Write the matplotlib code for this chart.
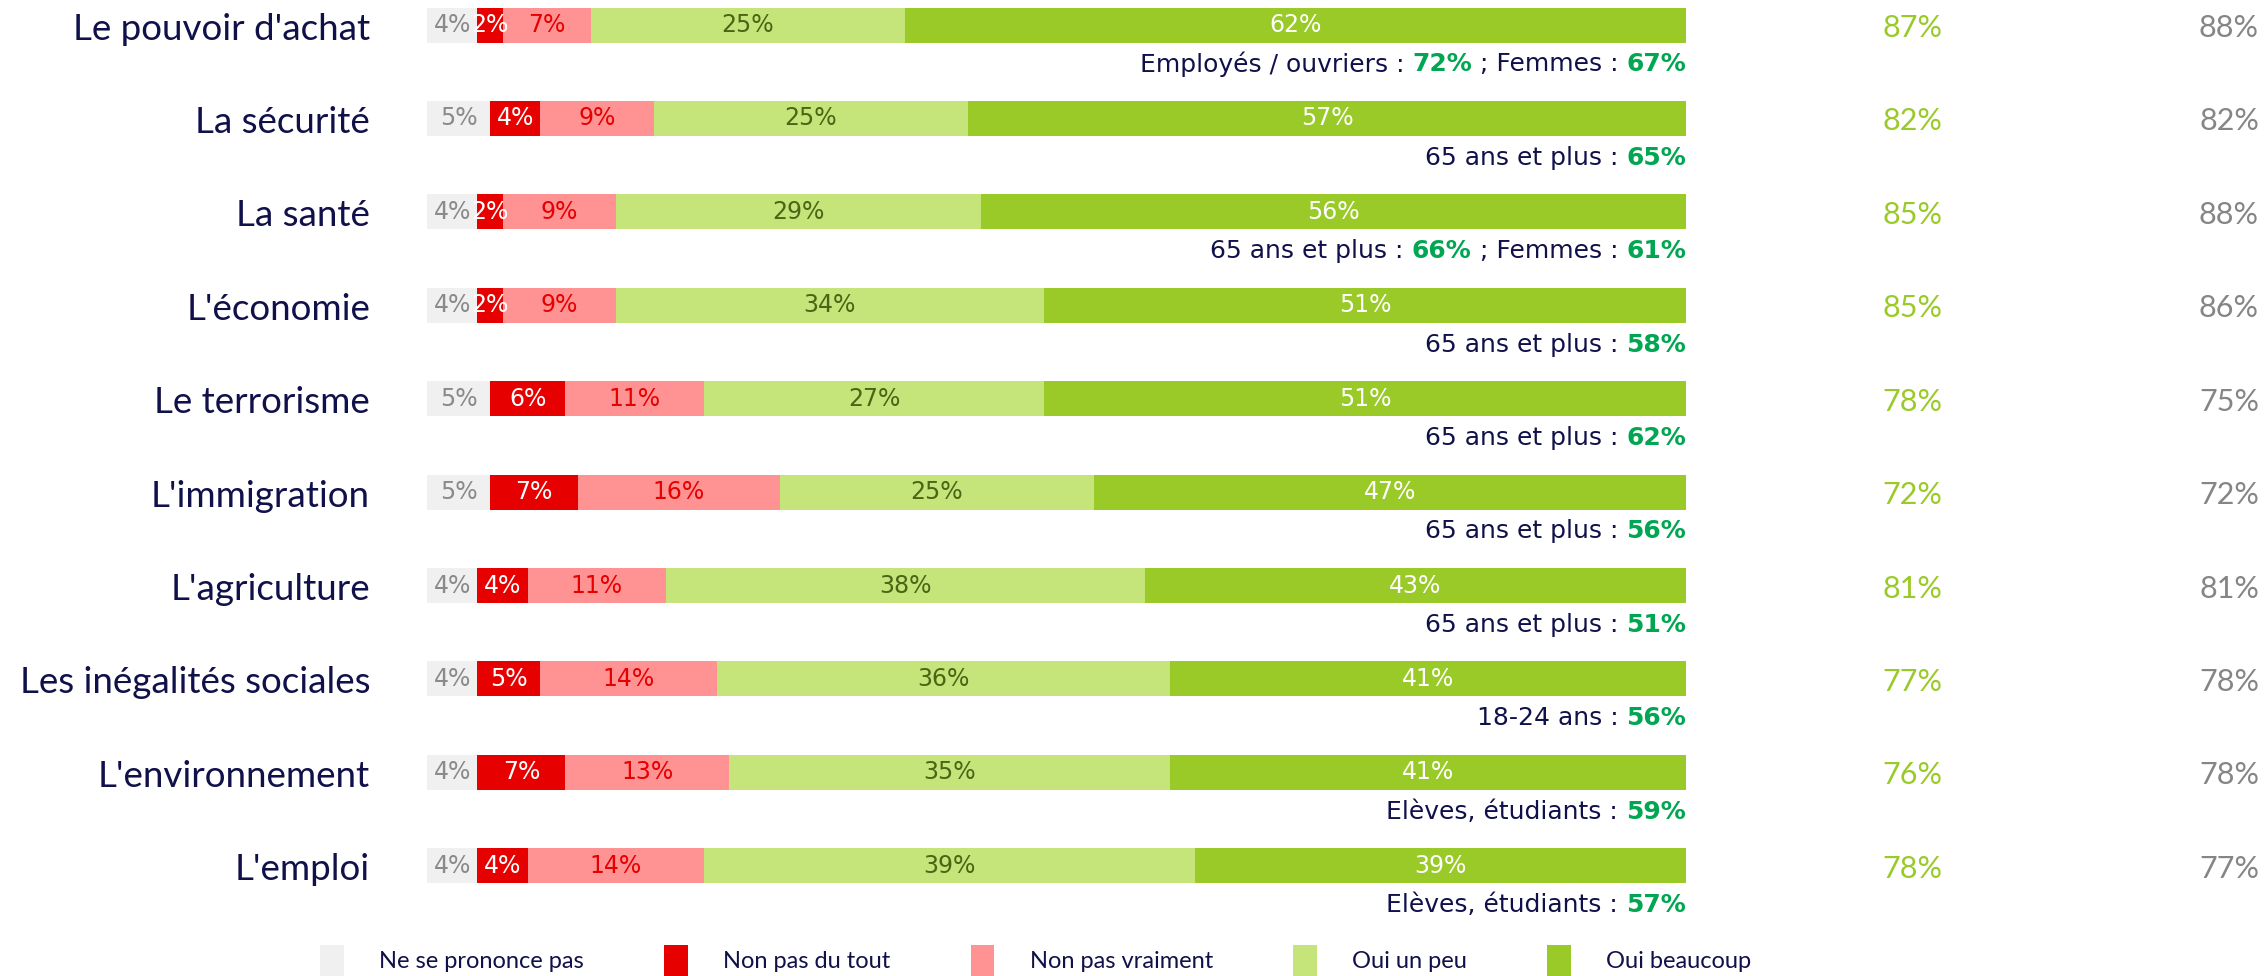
import numpy as np
import matplotlib.pyplot as plt
from matplotlib.patches import Patch

# données
themes = ["Le pouvoir d'achat", "La sécurité", "La santé", "L'économie", "Le terrorisme",
          "L'immigration", "L'agriculture", "Les inégalités sociales", "L'environnement", "L'emploi"]
nspp = [4, 5, 4, 4, 5, 5, 4, 4, 4, 4]
non_tout = [2, 4, 2, 2, 6, 7, 4, 5, 7, 4]
non_vraiment = [7, 9, 9, 9, 11, 16, 11, 14, 13, 14]
oui_peu = [25, 25, 29, 34, 27, 25, 38, 36, 35, 39]
oui_beaucoup = [62, 57, 56, 51, 51, 47, 43, 41, 41, 39]
total_oui = [87, 82, 85, 85, 78, 72, 81, 77, 76, 78]
total_avant = [88, 82, 88, 86, 75, 72, 81, 78, 78, 77]
notes = [
    ["Employés / ouvriers : ", "72%", " ; Femmes : ", "67%"],
    ["65 ans et plus : ", "65%"],
    ["65 ans et plus : ", "66%", " ; Femmes : ", "61%"],
    ["65 ans et plus : ", "58%"],
    ["65 ans et plus : ", "62%"],
    ["65 ans et plus : ", "56%"],
    ["65 ans et plus : ", "51%"],
    ["18-24 ans : ", "56%"],
    ["Elèves, étudiants : ", "59%"],
    ["Elèves, étudiants : ", "57%"],
]
legend_labels = ["Ne se prononce pas", "Non pas du tout", "Non pas vraiment", "Oui un peu", "Oui beaucoup"]

colors = ["#f0f0f0", "#e60000", "#ff9393", "#c5e57a", "#9aca27"]
text_colors = ["#8a8a8a", "white", "#e60000", "#4b6514", "white"]
navy = "#10104a"
green_txt = "#00a651"

hand = ["Liberation Sans Narrow", "DejaVu Sans"]
sans = ["Lato", "DejaVu Sans"]

fig = plt.figure(figsize=(22.64, 9.76), dpi=100)
ax = fig.add_axes([427 / 2264, 0, (1686 - 427) / 2264, 1])

y = np.arange(len(themes))
series = [nspp, non_tout, non_vraiment, oui_peu, oui_beaucoup]
left = np.zeros(len(themes))
for vals, c, tc in zip(series, colors, text_colors):
    vals = np.array(vals)
    ax.barh(y, vals, left=left, height=0.375, color=c, edgecolor="none")
    for yi, l, v in zip(y, left, vals):
        ax.text(l + v / 2, yi, f"{v}%", ha="center", va="center", color=tc,
                fontsize=17, family=hand)
    left += vals

ax.set_xlim(0, 100)
ax.set_ylim(10.18, -0.268)
ax.axis("off")

# libellés des thèmes, à gauche
for yi, t in zip(y, themes):
    ax.annotate(t, xy=(0, yi), xytext=(-57, -4), textcoords="offset pixels",
                ha="right", va="center", color=navy, fontsize=26.5, family=sans)

# totaux à droite
for yi, a, b in zip(y, total_oui, total_avant):
    ax.annotate(f"{a}%", xy=(100, yi), xytext=(226, -3), textcoords="offset pixels",
                ha="center", va="center", color="#9aca27", fontsize=22, family=sans)
    ax.annotate(f"{b}%", xy=(100, yi), xytext=(573, -3), textcoords="offset pixels",
                ha="right", va="center", color="#858585", fontsize=22, family=sans)

# sous-annotations, alignées à droite sur la fin de la barre
for yi, parts in zip(y, notes):
    prev = None
    for k, p in reversed(list(enumerate(parts))):
        col = green_txt if k % 2 == 1 else navy
        fw = "bold" if k % 2 == 1 else "normal"
        if prev is None:
            prev = ax.text(100, yi + 0.42, p, ha="right", va="center", color=col,
                           fontsize=18, family=hand, fontweight=fw)
        else:
            prev = ax.annotate(p, xy=(0, 0.5), xycoords=prev, ha="right", va="center",
                               color=col, fontsize=18, family=hand, fontweight=fw)

handles = [Patch(facecolor=c, edgecolor="none") for c in colors]
fig.legend(handles, legend_labels, loc="center", bbox_to_anchor=(0.4575, 0.016), ncol=5,
           frameon=False, handlelength=1.0, handleheight=1.6,
           columnspacing=3.4, handletextpad=1.5, labelcolor=navy,
           prop={"family": sans, "size": 17})

fig.savefig("out.png", dpi=100)
